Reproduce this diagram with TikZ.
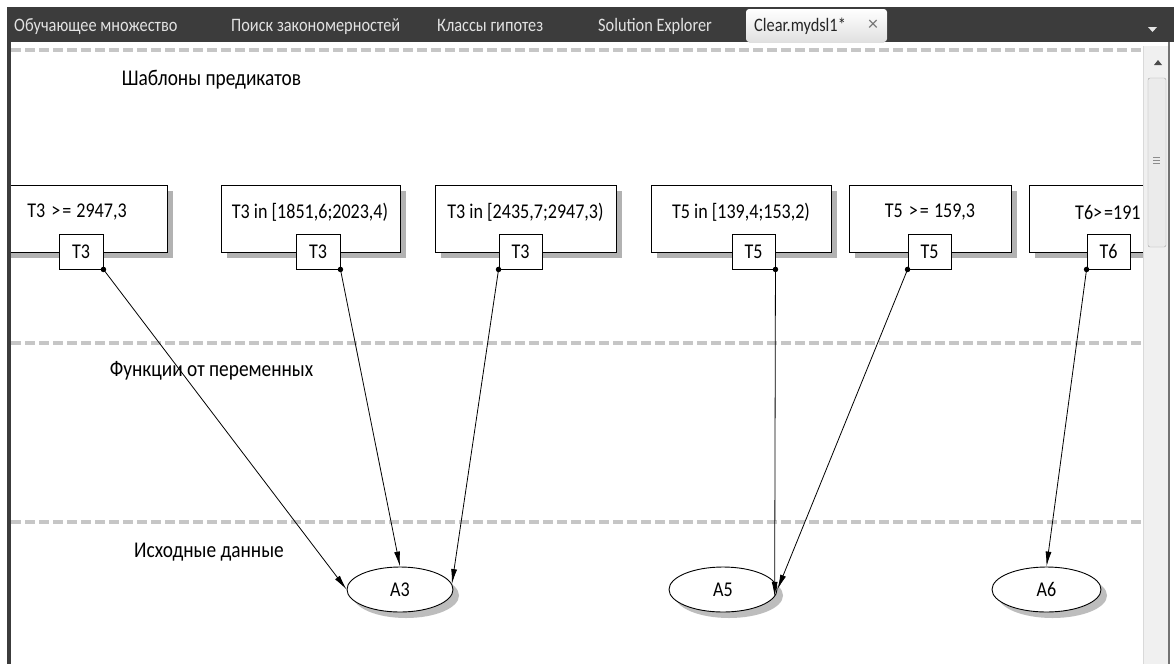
\documentclass[tikz,border=0pt]{standalone}
\usepackage{fontspec}
\setmainfont{Carlito}
\newfontfamily\uifont[FakeStretch=0.86]{Carlito}
\usetikzlibrary{arrows.meta,shadows,shapes.geometric}

\definecolor{barbg}{HTML}{3C3C3C}
\definecolor{tabtext}{HTML}{E2E2E2}
\definecolor{lanedash}{HTML}{C6C6C6}
\definecolor{scrollbg}{HTML}{F0F0F0}

\begin{document}
\begin{tikzpicture}[x=1pt,y=-1pt,
  predbox/.style={draw=black, line width=0.9pt, fill=white, inner sep=0pt,
    minimum width=#1, minimum height=67pt,
    drop shadow={shadow xshift=6pt, shadow yshift=-6pt, fill=black!30, opacity=1}},
  varbox/.style={draw=black, line width=0.9pt, fill=white, inner sep=0pt,
    minimum width=44pt, minimum height=35pt, font=\uifont\fontsize{21}{23}\selectfont},
  predtext/.style={inner sep=0pt, font=\uifont\fontsize{21}{23}\selectfont},
  datanode/.style={ellipse, draw=black, line width=0.9pt, fill=white, inner sep=0pt,
    minimum width=#1, minimum height=45pt, font=\uifont\fontsize{21}{23}\selectfont,
    drop shadow={shadow xshift=6pt, shadow yshift=-6pt, fill=black!26, opacity=1}},
  lanelabel/.style={inner sep=0pt, font=\uifont\fontsize{22.5}{24}\selectfont},
  laneline/.style={draw=lanedash, line width=4pt, dash pattern=on 10pt off 4pt},
  link/.style={draw=black, line width=0.8pt, -{Latex[length=15pt,width=6pt]}},
  portdot/.style={circle, fill=black, inner sep=0pt, minimum size=5.5pt},
  tablabel/.style={inner sep=0pt, anchor=base west, text=tabtext, font=\uifont\fontsize{19}{21}\selectfont},
]
\useasboundingbox (0,0) rectangle (1174,664);
\fill[white] (0,0) rectangle (1174,664);

% drawing canvas, clipped to the editor area
\begin{scope}
\clip (11,42) rectangle (1143,664);

% swimlane separators
\draw[laneline] (11,50) -- (1143,50);
\draw[laneline] (11,343) -- (1143,343);
\draw[laneline] (11,522) -- (1143,522);

\node[lanelabel] (laneP) at (211.5,80) {Шаблоны предикатов};
\node[lanelabel] (laneF) at (211.5,371) {Функции от переменных};
\node[lanelabel] (laneD) at (209,552) {Исходные данные};

% predicate templates
\node[predbox=180pt] (p1) at (77,218.5) {};
\node[predbox=179pt] (p2) at (310.5,218.5) {};
\node[predbox=181pt] (p3) at (525.5,218.5) {};
\node[predbox=180pt] (p4) at (741,218.5) {};
\node[predbox=162pt] (p5) at (930,218.5) {};
\node[predbox=181pt] (p6) at (1119.5,218.5) {};

\node[predtext] (t1) at (77,212) {T3 \kern2pt>\kern2pt= \kern1pt2947,3};
\node[predtext] (t2) at (310,212) {T3 in [1851,6;2023,4)};
\node[predtext] (t3) at (525.5,212) {T3 in [2435,7;2947,3)};
\node[predtext] (t4) at (741,212) {T5 in [139,4;153,2)};
\node[predtext] (t5) at (930,212) {T5 \kern2pt>\kern2pt= \kern1pt159,3};
\node[predtext, anchor=west] (t6) at (1075,212) {T6>\kern2pt=191};

% variable ports
\node[varbox] (s1) at (81,251.5) {T3};
\node[varbox] (s2) at (318,251.5) {T3};
\node[varbox, minimum width=43pt] (s3) at (520.5,251.5) {T3};
\node[varbox, minimum width=43pt] (s4) at (753.5,251.5) {T5};
\node[varbox, minimum width=43pt] (s5) at (929.5,251.5) {T5};
\node[varbox, minimum width=43pt] (s6) at (1108.5,251.5) {T6};

\node[portdot] (d1) at (s1.south east) {};
\node[portdot] (d2) at (s2.south east) {};
\node[portdot] (d3) at (s3.south west) {};
\node[portdot] (d4) at (s4.south east) {};
\node[portdot] (d5) at (s5.south west) {};
\node[portdot] (d6) at (s6.south west) {};

% source data
\node[datanode=106pt] (A3) at (400,589.5) {A3};
\node[datanode=108pt] (A5) at (723,589.5) {A5};
\node[datanode=109pt] (A6) at (1046.5,589.5) {A6};

% links
\draw[link] (d1.center) -- (A3.180);
\draw[link] (d2.center) -- (A3.90);
\draw[link] (d3.center) -- (A3.6);
\draw[link] (d4.center) -- (A5.-8);
\draw[link] (d5.center) -- (A5.0);
\draw[link] (d6.center) -- (A6.90);
\end{scope}

% window chrome: tab strip
\fill[barbg] (7,7) rectangle (1174,42);
\fill[barbg] (7,7) rectangle (11,664);
\fill[white, rounded corners=3pt] (11,42) rectangle (1150,46);
\fill[top color=white, bottom color=black!12, rounded corners=3pt]
  (746,9) -- (746,42) -- (887,42) -- (887,9) -- cycle;
\node[tablabel] (tab1) at (14,31) {Обучающее множество};
\node[tablabel] (tab2) at (231,31) {Поиск закономерностей};
\node[tablabel] (tab3) at (437,31) {Классы гипотез};
\node[tablabel] (tab4) at (598,31) {Solution Explorer};
\node[tablabel, text=black!85] (tab5) at (754,31) {Clear.mydsl1*};
\node[tablabel, anchor=center, text=black!55, font=\fontsize{20}{22}\selectfont] (tabx) at (873,25) {×};
\fill[black!10] (1148,27) -- (1157,27) -- (1152.5,32) -- cycle;

% vertical scrollbar
\fill[scrollbg] (1143,46) rectangle (1168,664);
\draw[black!15] (1143.5,46) -- (1143.5,664);
\fill[black!55] (1168,42) rectangle (1170,664);
\fill[black!70] (1154,65) -- (1162,65) -- (1158,60) -- cycle;
\draw[black!35, fill=black!8, rounded corners=2pt] (1148,78) rectangle (1166,247);
\draw[black!45, line width=0.7pt] (1153,157) -- (1160,157);
\draw[black!45, line width=0.7pt] (1153,160) -- (1160,160);
\draw[black!45, line width=0.7pt] (1153,163) -- (1160,163);
\end{tikzpicture}
\end{document}
